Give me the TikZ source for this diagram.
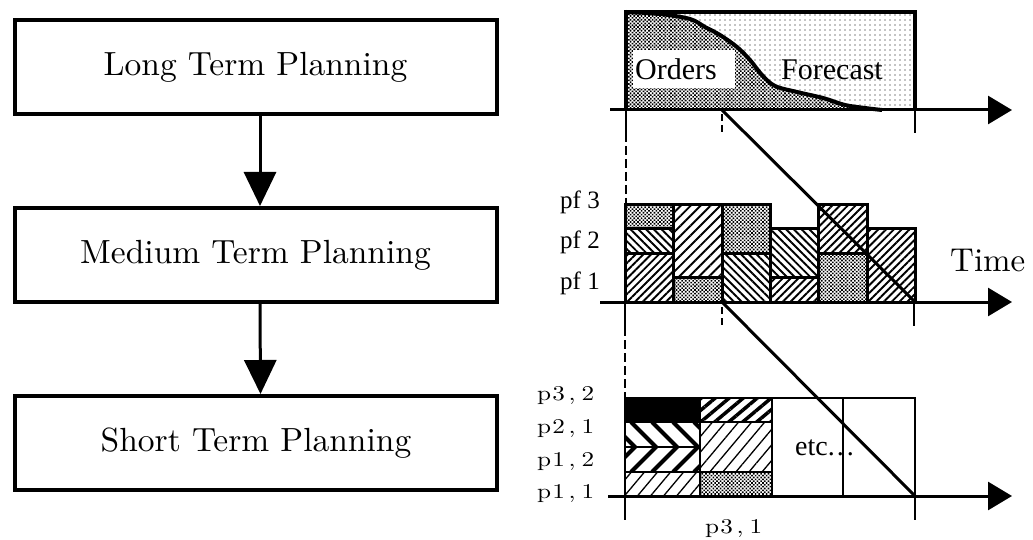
\documentclass[tikz,border=0pt]{standalone}
\usepackage{fontspec}
\newfontfamily\timesfont{Liberation Serif}
\newfontfamily\bookfont{lmroman10-regular}[Extension=.otf]
\usetikzlibrary{arrows.meta,patterns.meta}

\newcommand\spacedlbl[3]{\scalebox{1.2}[1]{#1\kern1pt#2\kern3pt,\kern5pt#3}}

\tikzset{
  planbox/.style={draw, line width=4pt, minimum width=482pt, minimum height=94pt,
    inner sep=0pt, font=\bookfont\fontsize{33.5}{40}\selectfont},
  flowarrow/.style={line width=3pt, -{Triangle[length=34pt,width=32pt]}},
  timeaxis/.style={line width=3pt, -{Triangle[length=24pt,width=28pt]}},
  tickmark/.style={line width=2.5pt},
  guide/.style={line width=1.2pt, dash pattern=on 9pt off 4pt},
  midtick/.style={line width=2pt, dash pattern=on 7pt off 4pt},
  diagline/.style={line width=3pt},
  barline/.style={line width=3pt},
  gridline/.style={line width=2pt},
  densedots/.style={pattern={Dots[distance=2.6pt,radius=1.15pt,angle=45]}},
  sparsedots/.style={pattern={Dots[distance=5pt,radius=0.6pt]}},
  hne/.style={pattern={Lines[angle=45,distance=5.5pt,line width=1.9pt]}},
  hnewide/.style={pattern={Lines[angle=45,distance=7pt,line width=1.9pt]}},
  hnw/.style={pattern={Lines[angle=-45,distance=5.5pt,line width=1.9pt]}},
  boldne/.style={pattern={Lines[angle=40,distance=9pt,line width=3.5pt]}},
  fairne/.style={pattern={Lines[angle=50,distance=10pt,line width=1.3pt]}},
  serlbl/.style={font=\timesfont\fontsize{25}{28}\selectfont, inner sep=0pt},
  chartlbl/.style={font=\timesfont\fontsize{30}{34}\selectfont, inner sep=0pt},
  plbl/.style={font=\bookfont\fontsize{21}{24}\selectfont, inner sep=0pt},
}

\begin{document}
\begin{tikzpicture}[x=1pt,y=-1pt]
\useasboundingbox (0,0) rectangle (1033,540);

% ---------- planning hierarchy ----------
\node[planbox] (lt) at (255.5,67.5) {Long Term Planning};
\node[planbox] (mt) at (255.5,255) {Medium Term Planning};
\node[planbox] (st) at (256,443) {Short Term Planning};
\draw[flowarrow] ([xshift=4.5pt]lt.south) -- ([xshift=4.5pt]mt.north);
\draw[flowarrow] ([xshift=4.5pt]mt.south) -- ([xshift=4.5pt]st.north);

% ---------- long term: orders and forecast ----------
\fill[sparsedots] (626,12) rectangle (915,110);
\fill[densedots] (626,110) -- plot[smooth,tension=0.55] coordinates {(626,12) (660,14) (690,19) (705,27) (720,35) (737,47) (750,60) (762,75) (775,86) (797,92) (823,98) (845,105) (865,108) (882,110)} -- cycle;
\fill[white] (633,50) rectangle (735,88);
\node[chartlbl, anchor=base west] (orders) at (635,80) {Orders};
\node[chartlbl, anchor=base] (forecast) at (832,80) {Forecast};
\draw[line width=4pt] (626,110) -- (626,12) -- (915,12) -- (915,110);
\draw[line width=4pt] plot[smooth,tension=0.55] coordinates {(626,12) (660,14) (690,19) (705,27) (720,35) (737,47) (750,60) (762,75) (775,86) (797,92) (823,98) (845,105) (865,108) (882,110)};

\coordinate (ta0) at (610,110);
\coordinate (ta1) at (1012,110);
\coordinate (t1) at (722,110);
\draw[timeaxis] (ta0) -- (ta1);
\draw[tickmark] (626,110) -- (626,133);
\draw[tickmark] (915,110) -- (915,133);
\draw[midtick] (722,114) -- (722,134);
\draw[guide] (626,133) -- (626,205);

% ---------- medium term: product families ----------
% column 1
\fill[densedots] (625,205) rectangle (673,228);
\fill[hnw] (625,228) rectangle (673,253);
\fill[hne] (625,253) rectangle (673,302);
% column 2
\fill[hnewide] (673,205) rectangle (722,277);
\fill[densedots] (673,277) rectangle (722,302);
% column 3
\fill[densedots] (722,205) rectangle (770,253);
\fill[hnw] (722,253) rectangle (770,302);
% column 4
\fill[hnw] (770,228) rectangle (818,277);
\fill[hne] (770,277) rectangle (818,302);
% column 5
\fill[hne] (818,205) rectangle (867,253);
\fill[densedots] (818,253) rectangle (867,302);
% column 6
\fill[hne] (867,228) rectangle (915,302);

\draw[barline] (625,302) -- (625,205) -- (770,205) -- (770,228) -- (818,228) -- (818,205) -- (867,205) -- (867,228) -- (915,228) -- (915,302);
\draw[barline] (673,205) -- (673,302);
\draw[barline] (722,205) -- (722,302);
\draw[barline] (770,228) -- (770,302);
\draw[barline] (818,228) -- (818,302);
\draw[barline] (867,228) -- (867,302);
\draw[barline] (625,228) -- (673,228);
\draw[barline] (625,253) -- (673,253);
\draw[barline] (673,277) -- (722,277);
\draw[barline] (722,253) -- (770,253);
\draw[barline] (770,277) -- (818,277);
\draw[barline] (818,253) -- (867,253);

\coordinate (ma0) at (600,302);
\coordinate (ma1) at (1012,302);
\coordinate (m1) at (722,302);
\coordinate (m2) at (915,302);
\draw[timeaxis] (ma0) -- (ma1);
\draw[tickmark] (625,302) -- (625,327);
\draw[tickmark] (914,302) -- (914,326);
\draw[midtick] (722,307) -- (722,326);
\draw[guide] (625,327) -- (625,398);

\node[serlbl, anchor=base west] (pf3) at (560,208) {pf 3};
\node[serlbl, anchor=base west] (pf2) at (560,248) {pf 2};
\node[serlbl, anchor=base west] (pf1) at (560,289) {pf 1};
\node[font=\bookfont\fontsize{33}{40}\selectfont, inner sep=0pt, anchor=base west] (time) at (950,271) {Time};

% ---------- short term: products ----------
\fill[black] (625,398) rectangle (700,422);
\begin{scope}
  \clip (625,422) rectangle (700,472);
  \foreach \k in {-1,...,4}
    \draw[line width=4pt] (610+21*\k,422) -- (635+21*\k,447) -- (610+21*\k,472);
\end{scope}
\fill[fairne] (625,472) rectangle (700,496);
\fill[boldne] (700,398) rectangle (772,422);
\fill[fairne] (700,422) rectangle (772,472);
\fill[densedots] (700,472) rectangle (772,496);

\draw[gridline] (625,496) -- (625,398) -- (915,398) -- (915,496);
\draw[gridline] (700,398) -- (700,496);
\draw[gridline] (772,398) -- (772,496);
\draw[gridline] (843,398) -- (843,496);
\draw[gridline] (625,422) -- (772,422);
\draw[gridline] (625,447) -- (700,447);
\draw[gridline] (625,472) -- (772,472);

\node[font=\timesfont\fontsize{28}{32}\selectfont, inner sep=0pt, anchor=base west] (etc) at (795,455) {etc.\kern2pt.\kern3pt.};

\coordinate (ba0) at (608,496);
\coordinate (ba1) at (1012,496);
\coordinate (b2) at (915,496);
\draw[timeaxis] (ba0) -- (ba1);
\draw[tickmark] (625,496) -- (625,520);
\draw[tickmark] (915,496) -- (915,520);

\node[plbl, anchor=base west] (p32) at (537,400) {\spacedlbl{p}{3}{2}};
\node[plbl, anchor=base west] (p21) at (537,433) {\spacedlbl{p}{2}{1}};
\node[plbl, anchor=base west] (p12) at (537,466) {\spacedlbl{p}{1}{2}};
\node[plbl, anchor=base west] (p11) at (537,498) {\spacedlbl{p}{1}{1}};
\node[plbl, anchor=base west] (p31) at (705,533) {\spacedlbl{p}{3}{1}};

% ---------- planning horizons carried down ----------
\draw[diagline] (t1) -- (m2);
\draw[diagline] (m1) -- (b2);
\end{tikzpicture}
\end{document}
